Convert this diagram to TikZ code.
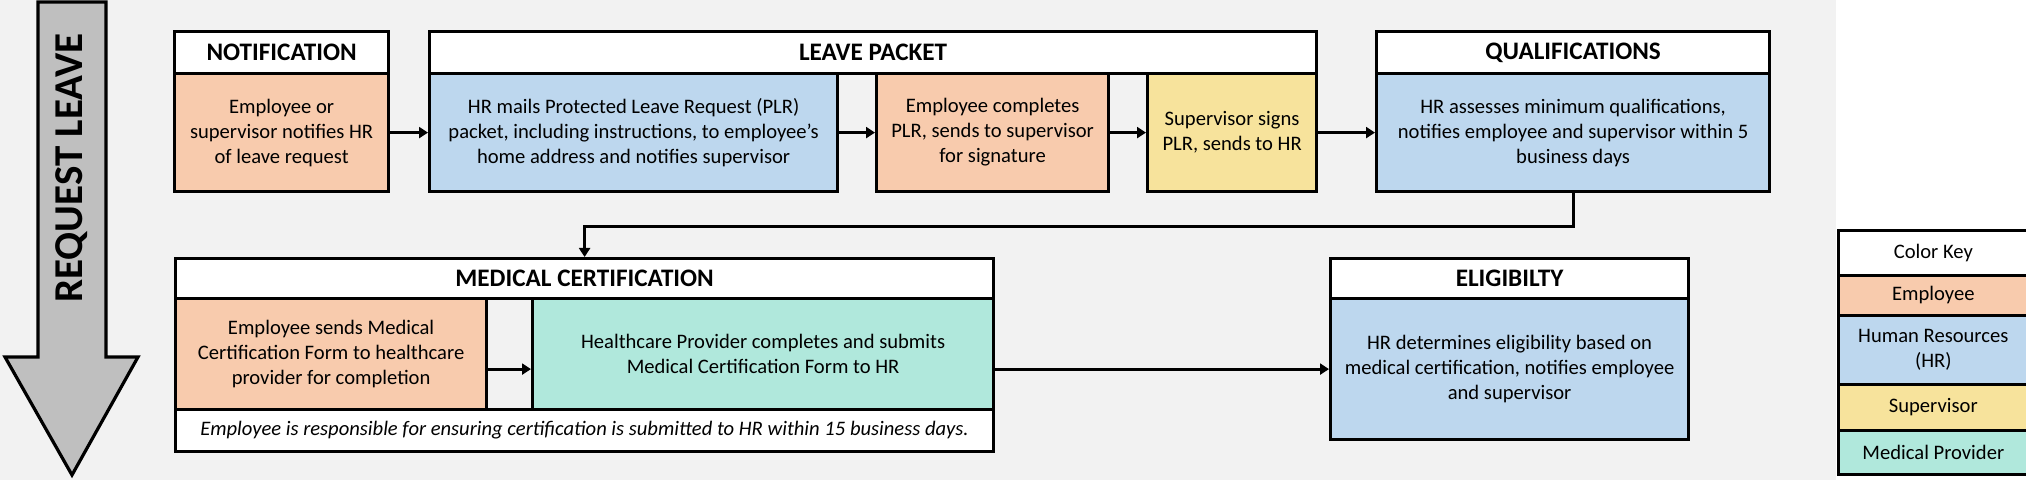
\documentclass[tikz,border=0pt]{standalone}
\usepackage{fontspec}
\setmainfont{Carlito}
\usetikzlibrary{arrows.meta,positioning,backgrounds}
\definecolor{panel}{HTML}{F2F2F2}
\definecolor{arrowgray}{HTML}{BFBFBF}
\definecolor{employee}{HTML}{F8CBAD}
\definecolor{hr}{HTML}{BDD7EE}
\definecolor{supervisor}{HTML}{F7E39C}
\definecolor{medical}{HTML}{B0E8DC}
\newcommand{\bodytext}{\fontsize{10.3pt}{12.5pt}\selectfont}

\begin{document}
\begin{tikzpicture}[
  x=0.5pt, y=-0.5pt,
  font=\bodytext,
  flow/.style={-{Triangle[length=4.5pt,width=5.5pt]}, line width=1.5pt},
  heading/.style={draw, line width=1.6pt, fill=white, anchor=north west,
                  inner sep=0pt, minimum height=21pt,
                  font=\fontsize{12.6pt}{15pt}\selectfont\bfseries},
  cell/.style={draw, line width=1.6pt, anchor=north west, inner sep=0pt,
               align=center, minimum height=59pt},
  keycell/.style={draw, line width=1.3pt, anchor=north west, inner sep=0pt,
                  align=center, minimum width=95pt}
]
\useasboundingbox (0,0) rectangle (2026,480);

% side arrow
\draw[line width=1.6pt, fill=arrowgray] (38,2) -- (106,2) -- (106,357) -- (138,357)
  -- (72,475) -- (5,357) -- (38,357) -- cycle;
\node[rotate=90, font=\fontsize{20.5pt}{24pt}\selectfont\bfseries] (request) at (72,168) {REQUEST LEAVE};

% first row
\node[heading, minimum width=107pt] (nothead) at (173,30) {NOTIFICATION};
\node[cell, fill=employee, minimum width=107pt] (notify) at (173,72)
  {Employee or\\supervisor notifies HR\\of leave request};

\node[heading, minimum width=443.5pt] (packhead) at (428,30) {LEAVE PACKET};
\node[cell, fill=hr, minimum width=204pt] (mail) at (428,72)
  {HR mails Protected Leave Request (PLR)\\packet, including instructions, to employee’s\\home address and notifies supervisor};
\node[cell, fill=employee, minimum width=116pt] (complete) at (875,72)
  {Employee completes\\PLR, sends to supervisor\\for signature};
\node[cell, fill=supervisor, minimum width=84.5pt] (sign) at (1146,72)
  {Supervisor signs\\PLR, sends to HR};

\node[heading, minimum width=196.5pt] (qualhead) at (1375,30) {QUALIFICATIONS};
\node[cell, fill=hr, minimum width=196.5pt] (qualify) at (1375,72)
  {HR assesses minimum qualifications,\\notifies employee and supervisor within 5\\business days};

\draw[flow] (notify) -- (mail);
\draw[flow] (mail) -- (complete);
\draw[flow] (complete) -- (sign);
\draw[flow] (sign) -- (qualify);

% second row
\node[heading, minimum width=409pt, minimum height=20pt] (medhead) at (174,257) {MEDICAL CERTIFICATION};
\node[cell, fill=employee, minimum width=155.5pt, minimum height=55.5pt] (send) at (174,297)
  {Employee sends Medical\\Certification Form to healthcare\\provider for completion};
\node[cell, fill=medical, minimum width=230.5pt, minimum height=55.5pt] (provider) at (531,297)
  {Healthcare Provider completes and submits\\Medical Certification Form to HR};
\node[cell, fill=white, minimum width=409pt, minimum height=21pt, font=\bodytext\itshape] (note) at (174,408)
  {Employee is responsible for ensuring certification is submitted to HR within 15 business days.};

\node[heading, minimum width=179pt, minimum height=20pt] (elighead) at (1329,257) {ELIGIBILTY};
\node[cell, fill=hr, minimum width=179pt, minimum height=70.5pt] (eligible) at (1329,297)
  {HR determines eligibility based on\\medical certification, notifies employee\\and supervisor};

\draw[flow] (qualify.south) -- ++(0,33) -| (medhead.north);
\draw[flow] (send.east |- eligible.west) -- (provider.west |- eligible.west);
\draw[flow] (provider.east |- eligible.west) -- (eligible.west);

% color key
\node[keycell, fill=white, minimum height=22.5pt] (keyhead) at (1837,229) {Color Key};
\node[keycell, fill=employee, minimum height=20pt] (keyemp) at (1837,274) {Employee};
\node[keycell, fill=hr, minimum height=34.5pt] (keyhr) at (1837,314) {Human Resources\\(HR)};
\node[keycell, fill=supervisor, minimum height=23pt] (keysup) at (1837,383) {Supervisor};
\node[keycell, fill=medical, minimum height=22pt] (keymed) at (1837,429) {Medical Provider};

\begin{scope}[on background layer]
  \fill[panel] (0,0) rectangle (1836,480);
\end{scope}

\end{tikzpicture}
\end{document}
